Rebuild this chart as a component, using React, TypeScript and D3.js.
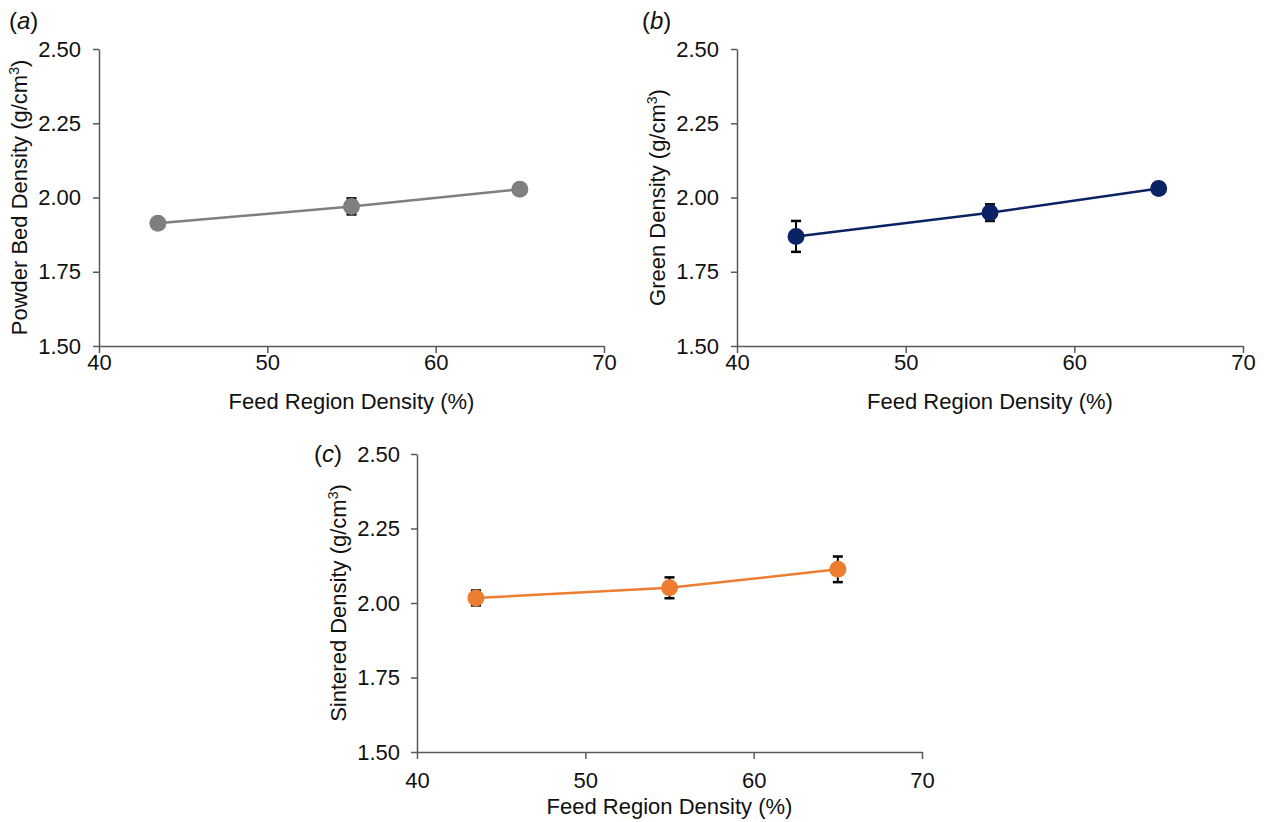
import React, { useEffect, useRef } from "react";
import * as d3 from "d3";

// feed region density (%) for the three builds
const feedDensity = [43.5, 55, 65];

const powderBed = [1.913, 1.97, 2.028];
const powderBedErr = [0.005, 0.027, 0.005];

const green = [1.869, 1.949, 2.03];
const greenErr = [0.052, 0.028, 0.006];

const sintered = [2.017, 2.051, 2.113];
const sinteredErr = [0.025, 0.035, 0.043];

const xTicks = [40, 50, 60, 70];
const yTicks = [1.5, 1.75, 2.0, 2.25, 2.5];

const FONT = "'Liberation Sans', Arial, sans-serif";
const AXIS = "#595959";

function drawPanel(svg, opts) {
  const { left, right, top, bottom, values, errs, color, yTitle, tag, tagX, tagY, yTitleX, xTitleY } = opts;

  const x = d3.scaleLinear().domain([40, 70]).range([left, right]);
  const y = d3.scaleLinear().domain([1.5, 2.5]).range([bottom, top]);

  const g = svg.append("g");

  const yAxis = g
    .append("g")
    .attr("transform", "translate(" + left + ",0)")
    .call(d3.axisLeft(y).tickValues(yTicks).tickFormat(d3.format(".2f")).tickSize(6).tickSizeOuter(0).tickPadding(opts.yPad));
  const xAxis = g
    .append("g")
    .attr("transform", "translate(0," + bottom + ")")
    .call(d3.axisBottom(x).tickValues(xTicks).tickSize(7).tickSizeOuter(0).tickPadding(opts.xPad));

  [yAxis, xAxis].forEach((a) => {
    a.selectAll("path, line").attr("stroke", AXIS).attr("stroke-width", 1.5);
    a.selectAll("text").attr("fill", "#111").style("font-family", FONT).style("font-size", "22px");
  });

  const pts = feedDensity.map((d, i) => ({ x: d, y: values[i], e: errs[i] }));

  g.append("path")
    .datum(pts)
    .attr("fill", "none")
    .attr("stroke", color)
    .attr("stroke-width", 2.5)
    .attr("d", d3.line().x((d) => x(d.x)).y((d) => y(d.y)));

  // error bars
  const eb = g.selectAll(".err").data(pts).enter().append("g").attr("class", "err");
  eb.append("line")
    .attr("x1", (d) => x(d.x))
    .attr("x2", (d) => x(d.x))
    .attr("y1", (d) => y(d.y - d.e))
    .attr("y2", (d) => y(d.y + d.e))
    .attr("stroke", "#000")
    .attr("stroke-width", 2);
  [-1, 1].forEach((s) => {
    eb.append("line")
      .attr("x1", (d) => x(d.x) - 5)
      .attr("x2", (d) => x(d.x) + 5)
      .attr("y1", (d) => y(d.y + s * d.e))
      .attr("y2", (d) => y(d.y + s * d.e))
      .attr("stroke", "#000")
      .attr("stroke-width", 2.5);
  });

  g.selectAll(".pt")
    .data(pts)
    .enter()
    .append("circle")
    .attr("class", "pt")
    .attr("cx", (d) => x(d.x))
    .attr("cy", (d) => y(d.y))
    .attr("r", 8.5)
    .attr("fill", color);

  // axis titles
  g.append("text")
    .attr("x", (left + right) / 2)
    .attr("y", xTitleY)
    .attr("text-anchor", "middle")
    .attr("fill", "#111")
    .style("font-family", FONT)
    .style("font-size", "22px")
    .text("Feed Region Density (%)");

  const yt = g
    .append("text")
    .attr("transform", "translate(" + yTitleX + "," + (top + bottom) / 2 + ") rotate(-90)")
    .attr("text-anchor", "middle")
    .attr("fill", "#111")
    .style("font-family", FONT)
    .style("font-size", "22px");
  yt.append("tspan").text(yTitle + " (g/cm");
  yt.append("tspan").attr("dy", -8).style("font-size", "14px").text("3");
  yt.append("tspan").attr("dy", 8).text(")");

  const tg = g
    .append("text")
    .attr("x", tagX)
    .attr("y", tagY)
    .attr("fill", "#111")
    .style("font-family", FONT)
    .style("font-size", "24px");
  tg.append("tspan").text("(");
  tg.append("tspan").style("font-style", "italic").text(tag);
  tg.append("tspan").text(")");
}

export default function App() {
  const ref = useRef(null);

  useEffect(() => {
    const svg = d3.select(ref.current);
    svg.selectAll("*").remove();

    drawPanel(svg, {
      left: 99, right: 604, top: 49, bottom: 346,
      values: powderBed, errs: powderBedErr, color: "#7f7f7f",
      yTitle: "Powder Bed Density", tag: "a", tagX: 9, tagY: 29,
      yTitleX: 27, xTitleY: 409, xPad: 1, yPad: 12,
    });
    drawPanel(svg, {
      left: 737, right: 1243, top: 49, bottom: 346,
      values: green, errs: greenErr, color: "#0b2365",
      yTitle: "Green Density", tag: "b", tagX: 642, tagY: 29,
      yTitleX: 665, xTitleY: 409, xPad: 1, yPad: 12,
    });
    drawPanel(svg, {
      left: 417, right: 922, top: 454, bottom: 752,
      values: sintered, errs: sinteredErr, color: "#ed7d31",
      yTitle: "Sintered Density", tag: "c", tagX: 314, tagY: 462,
      yTitleX: 346, xTitleY: 814, xPad: 13, yPad: 11,
    });
  }, []);

  return (
    <svg
      ref={ref}
      width={1264}
      height={822}
      style={{ position: "absolute", left: 0, top: 0, background: "#fff" }}
    />
  );
}
